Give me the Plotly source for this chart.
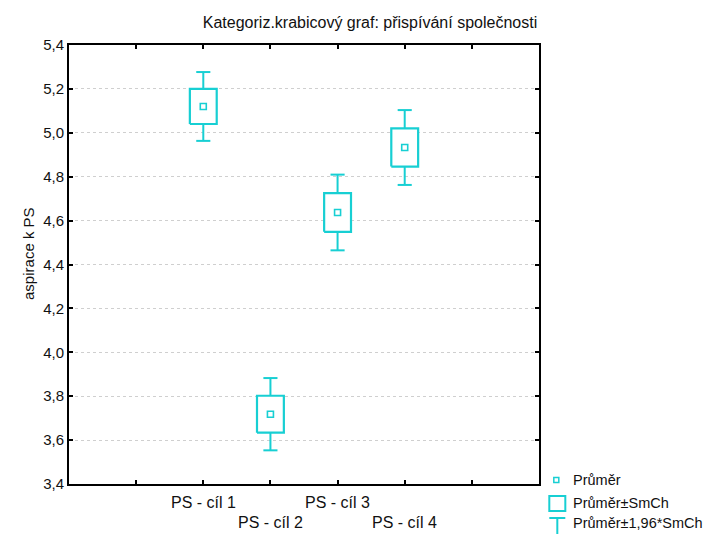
import plotly.graph_objects as go

# ---- data ----
categories = ["PS - cíl 1", "PS - cíl 2", "PS - cíl 3", "PS - cíl 4"]
means = [5.12, 3.718, 4.637, 4.933]
se = [0.080, 0.084, 0.088, 0.087]
z = 1.96

title_text = "Kategoriz.krabicový graf: přispívání společnosti"
y_title = "aspirace k PS"
legend_labels = ["Průměr", "Průměr±SmCh", "Průměr±1,96*SmCh"]

# ---- style / layout constants ----
W, H = 723, 534
L, R, T, B = 69, 538.7, 45, 484
CYAN = "#17CFD3"
FONT = "Liberation Sans, Arial, sans-serif"
box_hw = 0.2
cap_hw = 0.105

xpos = [i + 1 for i in range(len(categories))]

fig = go.Figure()

# whiskers
wx, wy = [], []
for x, m, s in zip(xpos, means, se):
    lo_b, hi_b = m - s, m + s
    lo_w, hi_w = m - z * s, m + z * s
    wx += [x, x, None, x - cap_hw, x + cap_hw, None,
           x, x, None, x - cap_hw, x + cap_hw, None]
    wy += [hi_b, hi_w, None, hi_w, hi_w, None,
           lo_b, lo_w, None, lo_w, lo_w, None]
fig.add_trace(go.Scatter(x=wx, y=wy, mode="lines",
                         line=dict(color=CYAN, width=2), hoverinfo="skip",
                         showlegend=False))

# boxes
for x, m, s in zip(xpos, means, se):
    fig.add_trace(go.Scatter(
        x=[x - box_hw, x + box_hw, x + box_hw, x - box_hw, x - box_hw],
        y=[m - s, m - s, m + s, m + s, m - s],
        mode="lines", fill="toself", fillcolor="white",
        line=dict(color=CYAN, width=2.2), showlegend=False, hoverinfo="skip"))

# means
fig.add_trace(go.Scatter(x=xpos, y=means, mode="markers",
                         marker=dict(symbol="square-open", size=6,
                                     color=CYAN, line=dict(width=1.6)),
                         showlegend=False))

def px(xp):
    return (xp - L) / (R - L)

def py(yp):
    return (B - yp) / (B - T)

shapes = []
annotations = []

# x category labels (staggered)
for i, (x, c) in enumerate(zip(xpos, categories)):
    ypix = 502 if i % 2 == 0 else 522
    annotations.append(dict(x=x, xref="x", y=py(ypix), yref="paper",
                            text=c, showarrow=False, xanchor="center",
                            yanchor="middle",
                            font=dict(family=FONT, size=16, color="#111")))

# y axis title
annotations.append(dict(x=px(28), xref="paper", y=py(253), yref="paper",
                        text=y_title, textangle=-90, showarrow=False,
                        xanchor="center", yanchor="middle",
                        font=dict(family=FONT, size=15, color="#111")))

# manual legend
lw = dict(color=CYAN, width=2)
shapes.append(dict(type="rect", xref="paper", yref="paper",
                   x0=px(553.5), x1=px(558.5), y0=py(482.5), y1=py(477.5),
                   line=dict(color=CYAN, width=1.5)))
shapes.append(dict(type="rect", xref="paper", yref="paper",
                   x0=px(549), x1=px(565), y0=py(511), y1=py(496), line=lw))
shapes.append(dict(type="line", xref="paper", yref="paper",
                   x0=px(549), x1=px(565), y0=py(518), y1=py(518), line=lw))
shapes.append(dict(type="line", xref="paper", yref="paper",
                   x0=px(557), x1=px(557), y0=py(518), y1=py(536), line=lw))
for lab, ypix in zip(legend_labels, [480, 503, 523]):
    annotations.append(dict(x=px(571), xref="paper", y=py(ypix), yref="paper",
                            text=lab, showarrow=False, xanchor="left",
                            yanchor="middle",
                            font=dict(family=FONT, size=14.5, color="#111")))

fig.update_layout(
    width=W, height=H,
    margin=dict(l=L, r=W - R, t=T, b=H - B, pad=0),
    paper_bgcolor="white", plot_bgcolor="white",
    separators=", ",
    title=dict(text=title_text, x=370 / W, xref="container", xanchor="center",
               y=1 - 22 / H, yref="container", yanchor="middle",
               font=dict(family=FONT, size=16, color="#111")),
    shapes=shapes, annotations=annotations,
    showlegend=False,
    font=dict(family=FONT, color="#111"),
)
fig.update_xaxes(range=[-1, 6], tickmode="array",
                 tickvals=list(range(-1, 7)), ticktext=[""] * 8,
                 ticks="inside", ticklen=4, tickwidth=1.5, tickcolor="black",
                 showline=True, linecolor="black", linewidth=2, mirror="ticks",
                 showgrid=False, zeroline=False, fixedrange=True)
fig.update_yaxes(range=[3.4, 5.4], tickmode="linear", tick0=3.4, dtick=0.2,
                 tickformat=".1f", ticks="inside", ticklen=4, tickwidth=1.5,
                 tickcolor="black", showline=True, linecolor="black",
                 linewidth=2, mirror="ticks", showgrid=True,
                 gridcolor="#cfcfcf", griddash="dot", gridwidth=1,
                 zeroline=False,
                 tickfont=dict(family=FONT, size=15, color="#111"),
                 fixedrange=True)

fig.write_html("out.html",
               config={"displayModeBar": False},
               post_script="document.body.style.margin='0';"
                           "document.body.style.padding='0';")
